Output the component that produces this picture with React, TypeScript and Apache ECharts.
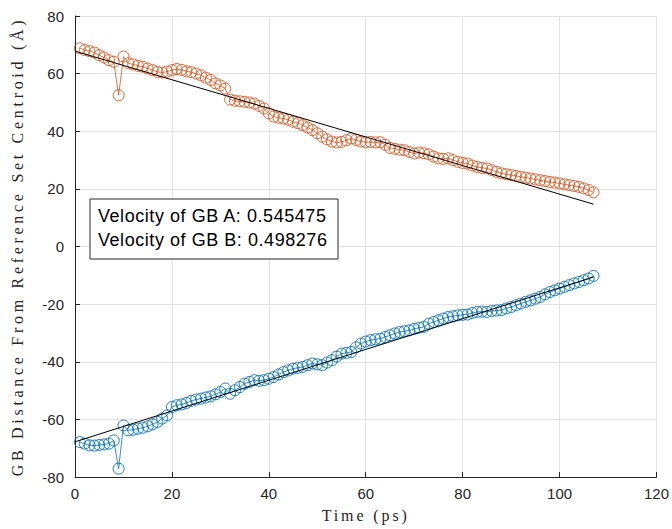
import React, { useEffect, useRef } from "react";
import * as echarts from "echarts";

const timePs = Array.from({ length: 107 }, (_, i) => i + 1);

const gbA = [
  68.8, 68.2, 67.8, 67.3, 66.4, 65.6, 64.7, 64.1, 52.5, 65.9,
  63.6, 63.2, 62.7, 62.4, 61.8, 61.2, 60.6, 60.4, 60.7, 61.2,
  61.6, 61.3, 60.8, 60.5, 60.0, 59.4, 58.6, 57.8, 56.6, 55.9,
  54.8, 51.0, 50.6, 50.4, 50.2, 50.0, 49.6, 48.8, 47.9, 46.2,
  45.1, 44.7, 44.4, 44.0, 43.3, 42.8, 42.1, 41.3, 40.4, 39.3,
  38.1, 37.2, 36.4, 36.1, 36.3, 36.9, 37.5, 37.0, 36.4, 36.2,
  36.3, 36.1, 36.2, 35.3, 34.2, 33.9, 33.6, 33.4, 32.8, 32.3,
  32.6, 32.4, 32.0, 31.2, 30.6, 30.4, 30.6, 30.0, 29.4, 29.0,
  28.8, 28.1, 27.6, 27.3, 27.1, 26.5, 25.9, 25.4, 25.1, 24.8,
  24.5, 24.2, 23.9, 23.6, 23.3, 23.0, 22.7, 22.4, 22.2, 21.9,
  21.6, 21.3, 21.0, 20.7, 20.2, 19.6, 18.8,
];

const gbB = [
  -67.9, -68.4, -69.0, -69.1, -68.9, -68.7, -68.4, -67.3, -77.1, -62.1,
  -63.8, -63.6, -63.2, -62.9, -62.4, -61.7, -60.9, -59.7, -58.6, -55.7,
  -55.1, -54.8, -54.3, -53.6, -53.1, -52.8, -52.4, -52.0, -51.3, -50.5,
  -49.3, -51.1, -49.9, -48.8, -47.6, -47.0, -46.4, -46.6, -46.4, -45.9,
  -45.3, -44.4, -43.6, -43.0, -42.4, -42.1, -41.8, -41.2, -40.6, -40.9,
  -41.2, -40.3, -39.5, -38.2, -37.2, -36.9, -36.6, -35.0, -33.7, -33.0,
  -32.5, -32.2, -32.0, -31.4, -30.8, -30.2, -29.7, -29.4, -29.1, -28.6,
  -28.2, -27.9, -26.8, -26.2, -25.6, -25.0, -24.5, -24.2, -23.9, -23.7,
  -23.6, -23.1, -22.7, -22.6, -22.7, -22.4, -22.2, -22.1, -21.5, -21.0,
  -20.4, -19.8, -19.2, -18.7, -18.1, -17.5, -16.6, -15.8, -15.2, -14.6,
  -14.0, -13.4, -12.8, -12.3, -11.7, -11.1, -10.2,
];

const fitA = [[0, 67.8], [107, 14.7]];
const fitB = [[0, -67.8], [107, -10.6]];

const legendLines = ["Velocity of GB A: 0.545475", "Velocity of GB B: 0.498276"];

const xTitle = "Time (ps)";
const yTitle = "GB Distance From Reference Set Centroid (Å)";

const colorA = "#D95319";
const colorB = "#0072BD";
const axisColor = "#262626";
const sans = "'Liberation Sans', Arial, Helvetica, sans-serif";
const serif = "'Liberation Serif', 'Times New Roman', serif";

export default function App() {
  const ref = useRef<HTMLDivElement>(null);
  useEffect(() => {
    if (!ref.current) return;
    const chart = echarts.init(ref.current, null, { renderer: "svg" });
    const axisCommon = {
      axisLine: { show: true, onZero: false, lineStyle: { color: axisColor, width: 1 } },
      axisTick: { show: true, inside: true, length: 5, lineStyle: { color: axisColor } },
      axisLabel: { color: axisColor, fontSize: 15, fontFamily: sans },
      splitLine: { show: true, lineStyle: { color: "#e3e3e3", width: 1 } },
    };
    chart.setOption({
      animation: false,
      backgroundColor: "#ffffff",
      grid: { left: 75, right: 15, top: 16, bottom: 52, containLabel: false },
      xAxis: {
        type: "value",
        min: 0,
        max: 120,
        interval: 20,
        name: xTitle,
        nameLocation: "middle",
        nameGap: 31,
        ...axisCommon,
        axisLabel: { ...axisCommon.axisLabel, margin: 9 },
        nameTextStyle: {
          color: axisColor,
          fontSize: 16,
          fontFamily: serif + ";letter-spacing:2.9px",
        },
      },
      yAxis: {
        type: "value",
        min: -80,
        max: 80,
        interval: 20,
        name: yTitle,
        nameLocation: "middle",
        nameGap: 50,
        ...axisCommon,
        axisLabel: { ...axisCommon.axisLabel, margin: 11 },
        nameTextStyle: {
          color: axisColor,
          fontSize: 16,
          fontFamily: serif + ";letter-spacing:3.7px",
        },
      },
      series: [
        {
          type: "line",
          data: timePs.map((t, i) => [t, gbA[i]]),
          symbol: "circle",
          symbolSize: 11,
          showAllSymbol: true,
          lineStyle: { color: colorA, width: 0.8 },
          itemStyle: { color: "rgba(0,0,0,0)", borderColor: colorA, borderWidth: 0.9 },
        },
        {
          type: "line",
          data: timePs.map((t, i) => [t, gbB[i]]),
          symbol: "circle",
          symbolSize: 11,
          showAllSymbol: true,
          lineStyle: { color: colorB, width: 0.8 },
          itemStyle: { color: "rgba(0,0,0,0)", borderColor: colorB, borderWidth: 0.9 },
        },
        {
          type: "line",
          data: fitA,
          symbol: "none",
          lineStyle: { color: "#000000", width: 1 },
          z: 5,
        },
        {
          type: "line",
          data: fitB,
          symbol: "none",
          lineStyle: { color: "#000000", width: 1 },
          z: 5,
        },
      ],
      graphic: [
        {
          type: "rect",
          shape: { x: 90, y: 199, width: 248, height: 60 },
          style: { fill: "#ffffff", stroke: axisColor, lineWidth: 1 },
          z: 10,
        },
        ...legendLines.map((txt, i) => ({
          type: "text",
          x: 98,
          y: 216 + i * 24,
          style: {
            text: txt,
            fill: "#000000",
            font: `18px ${sans};letter-spacing:0.55px`,
            verticalAlign: "middle",
          },
          z: 11,
        })),
      ],
    });
    return () => chart.dispose();
  }, []);
  return (
    <div
      ref={ref}
      style={{ position: "fixed", left: 0, top: 0, width: 672, height: 529 }}
    />
  );
}
